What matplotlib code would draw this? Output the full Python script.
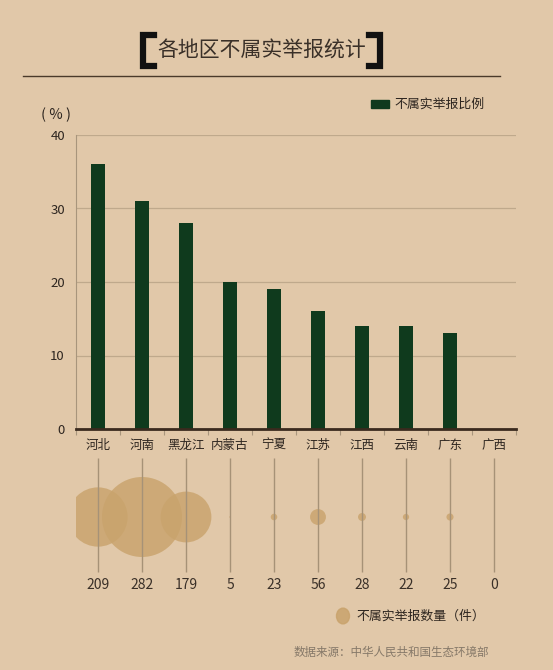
import matplotlib
matplotlib.use("Agg")
import matplotlib.pyplot as plt
from matplotlib.lines import Line2D
import numpy as np

plt.rcParams['font.family'] = ['Noto Sans CJK SC', 'DejaVu Sans']

regions = ["河北", "河南", "黑龙江", "内蒙古", "宁夏", "江苏", "江西", "云南", "广东", "广西"]
ratio = [36, 31, 28, 20, 19, 16, 14, 14, 13, 0]
counts = [209, 282, 179, 5, 23, 56, 28, 22, 25, 0]
yticks = [0, 10, 20, 30, 40]

W, H = 553, 670
BG = "#e1c8a9"
BAR = "#0f3a1d"
BUB = "#c9a36c"

fig = plt.figure(figsize=(W / 100, H / 100), dpi=100, facecolor=BG)

def fx(px):
    return px / W

def fy(py):
    return 1 - py / H

# Title
fig.text(fx(262), fy(51), "各地区不属实举报统计", ha="center", va="center",
         fontsize=15, color="#3a3028")
lw_b = 4.5
for xs in [(154, 143, 143, 154), (369, 380, 380, 369)]:
    fig.add_artist(Line2D([fx(xs[0]), fx(xs[1]), fx(xs[2]), fx(xs[3])],
                          [fy(35), fy(35), fy(66), fy(66)],
                          color="#111111", lw=lw_b, solid_joinstyle="miter",
                          transform=fig.transFigure))
fig.add_artist(Line2D([fx(23), fx(500)], [fy(76), fy(76)], color="#4a3a2a", lw=1.0,
                      transform=fig.transFigure))

# Bar axes
x = np.arange(len(regions))
ax = fig.add_axes([fx(76), fy(429), fx(516) - fx(76), fy(135) - fy(429)])
ax.set_facecolor("none")
ax.bar(x, ratio, width=0.32, color=BAR, zorder=3)
ax.set_xlim(-0.5, len(regions) - 0.5)
ax.set_ylim(0, 40)
ax.set_yticks(yticks)
ax.set_yticklabels([str(t) for t in yticks], fontsize=9.5, color="#2e2620")
ax.grid(axis="y", color="#bfa98c", lw=0.9, zorder=0)
for s in ["top", "right"]:
    ax.spines[s].set_visible(False)
ax.spines["left"].set_color("#a8957c")
ax.spines["left"].set_linewidth(0.8)
ax.spines["bottom"].set_color("#3a2a1e")
ax.spines["bottom"].set_linewidth(2.0)
ax.spines["bottom"].set_zorder(4)
ax.tick_params(axis="y", length=0, pad=8)
ax.set_xticks(np.arange(len(regions) + 1) - 0.5)
ax.set_xticklabels([])
ax.tick_params(axis="x", direction="out", length=4, color="#a8957c", width=0.8)
for i, r in enumerate(regions):
    ax.text(i, -0.055, r, transform=ax.get_xaxis_transform(), ha="center", va="center",
            fontsize=9, color="#2e2620")

fig.text(fx(56), fy(115), "( % )", ha="center", va="center", fontsize=10.5, color="#2e2620")

# legend for bars
fig.patches.append(plt.Rectangle((fx(371), fy(108)), fx(18), fy(100) - fy(108),
                                 color=BAR, transform=fig.transFigure))
fig.text(fx(394), fy(104), "不属实举报比例", ha="left", va="center", fontsize=9.3, color="#2e2620")

# Bubble axes
ax2 = fig.add_axes([fx(76), fy(600), fx(516) - fx(76), fy(440) - fy(600)])
ax2.set_facecolor("none")
ax2.set_xlim(-0.5, len(regions) - 0.5)
ax2.set_ylim(0, 160)
ax2.axis("off")
ax2.vlines(x, 28, 142, color="#a69277", lw=1.0, zorder=3)
maxc = max(counts)
rad_px = [40 * c / maxc for c in counts]
sizes = [(2 * r * 0.72) ** 2 for r in rad_px]
ax2.scatter(x, [83] * len(x), s=sizes, color=BUB, alpha=0.82, edgecolors="none", zorder=2)
for i, c in enumerate(counts):
    ax2.text(i, 15, str(c), ha="center", va="center", fontsize=10, color="#3a3028")

fig.add_artist(plt.Circle((fx(343), fy(616)), 6.5 / W, color=BUB, alpha=0.85,
                          transform=fig.transFigure))
fig.text(fx(356), fy(616), "不属实举报数量（件）", ha="left", va="center", fontsize=9.3, color="#2e2620")

fig.text(fx(489), fy(652), "数据来源：中华人民共和国生态环境部", ha="right", va="center",
         fontsize=8.3, color="#857868")

fig.savefig("out.png", dpi=100, facecolor=BG)
